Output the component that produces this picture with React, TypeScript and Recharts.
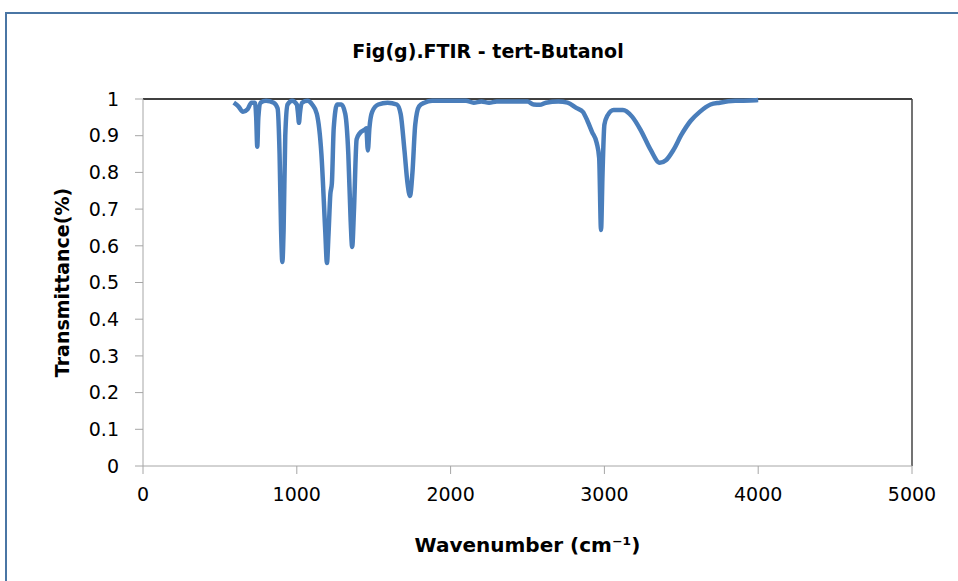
import React from 'react';
import {
  LineChart,
  Line,
  XAxis,
  YAxis,
  ReferenceLine,
  Label,
} from 'recharts';

// FTIR spectrum of tert-Butanol
const wavenumbers = [
  590, 620, 650, 680, 705, 728, 736, 743, 750, 765, 800, 850, 875, 888, 898, 906,
  914, 925, 940, 970, 1000, 1008, 1014, 1020, 1035, 1070, 1100, 1130, 1160, 1185,
  1196, 1206, 1218, 1228, 1240, 1262, 1290, 1315, 1335, 1350, 1360, 1372, 1389,
  1410, 1440, 1452, 1462, 1472, 1490, 1530, 1590, 1650, 1675, 1700, 1720, 1736,
  1752, 1770, 1795, 1830, 1880, 2000, 2100, 2150, 2200, 2250, 2300, 2400, 2500,
  2540, 2580, 2620, 2700, 2760, 2820, 2860, 2890, 2920, 2950, 2966, 2978, 2988,
  3000, 3020, 3060, 3120, 3180, 3240, 3300, 3360, 3400, 3450, 3500, 3560, 3620,
  3690, 3750, 3850, 3950, 4000,
];
const transmittance = [
  0.99, 0.98, 0.965, 0.972, 0.99, 0.99, 0.95, 0.87, 0.95, 0.99, 0.995, 0.99, 0.975,
  0.85, 0.64, 0.556, 0.64, 0.9, 0.985, 0.995, 0.985, 0.96, 0.935, 0.96, 0.99, 0.995,
  0.985, 0.96, 0.85, 0.64, 0.553, 0.63, 0.74, 0.77, 0.92, 0.985, 0.985, 0.96, 0.85,
  0.67, 0.597, 0.7, 0.89, 0.907, 0.916, 0.92, 0.86, 0.92, 0.965, 0.985, 0.99, 0.985,
  0.96, 0.86, 0.77, 0.736, 0.8, 0.93, 0.98, 0.99, 0.995, 0.995, 0.995, 0.99, 0.993,
  0.99, 0.993, 0.993, 0.993, 0.985, 0.984, 0.99, 0.993, 0.99, 0.975, 0.965, 0.94,
  0.91, 0.88, 0.84, 0.643, 0.8, 0.93, 0.955, 0.97, 0.97, 0.952, 0.912, 0.862, 0.826,
  0.833, 0.862, 0.902, 0.94, 0.965, 0.985, 0.99, 0.995, 0.996, 0.997,
];
const xTicks = [0, 1000, 2000, 3000, 4000, 5000];
const yTicks = [0, 0.1, 0.2, 0.3, 0.4, 0.5, 0.6, 0.7, 0.8, 0.9, 1];

const data = wavenumbers.map((w, i) => ({ w, t: transmittance[i] }));

const font = "'DejaVu Sans', sans-serif";

export default function App() {
  return (
    <div style={{ position: 'absolute', left: 0, top: 0, width: 958, height: 581, background: '#fff', overflow: 'hidden', fontFamily: font }}>
      <div
        style={{
          position: 'absolute',
          left: 5,
          top: 12,
          width: 980,
          height: 600,
          border: '2px solid #4a76a4',
          boxSizing: 'border-box',
        }}
      />
      <div
        style={{
          position: 'absolute',
          left: 0,
          width: 976,
          top: 40,
          textAlign: 'center',
          fontWeight: 'bold',
          fontSize: 19,
          color: '#000',
        }}
      >
        Fig(g).FTIR - tert-Butanol
      </div>
      <div style={{ position: 'absolute', left: 0, top: 0 }}>
        <LineChart width={958} height={581} data={data} margin={{ top: 99, right: 46, left: 0, bottom: 0 }}>
          <XAxis
            dataKey="w"
            type="number"
            domain={[0, 5000]}
            ticks={xTicks}
            height={115}
            stroke="#a6a6a6"
            tickSize={8}
            tickMargin={14}
            tick={{ fill: '#000', fontSize: 19, fontFamily: font }}
          >
            <Label
              value="Wavenumber (cm⁻¹)"
              position="insideBottom"
              offset={29}
              style={{ fontWeight: 'bold', fontSize: 20, fill: '#000', fontFamily: font }}
            />
          </XAxis>
          <YAxis
            type="number"
            domain={[0, 1]}
            ticks={yTicks}
            width={143}
            stroke="#a6a6a6"
            tickSize={8}
            tickMargin={16}
            tick={{ fill: '#000', fontSize: 19, fontFamily: font }}
          >
            <Label
              value="Transmittance(%)"
              angle={-90}
              position="insideLeft"
              offset={62}
              textAnchor="middle"
              style={{ fontWeight: 'bold', fontSize: 19, fill: '#000', fontFamily: font, textAnchor: 'middle' }}
            />
          </YAxis>
          <ReferenceLine y={1} stroke="#000" strokeWidth={1.5} />
          <ReferenceLine x={5000} stroke="#444" strokeWidth={1.5} />
          <Line
            type="monotone"
            dataKey="t"
            stroke="#4a7ebb"
            strokeWidth={4.5}
            dot={false}
            isAnimationActive={false}
          />
        </LineChart>
      </div>
    </div>
  );
}
